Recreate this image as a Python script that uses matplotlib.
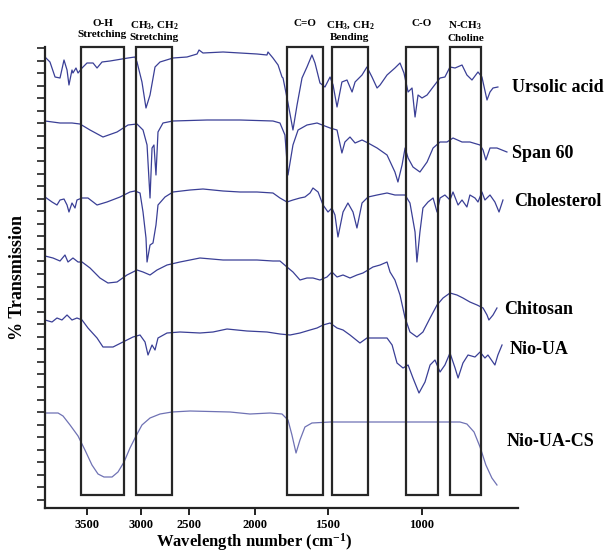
import numpy as np
import matplotlib
matplotlib.use("Agg")
from matplotlib import pyplot as plt
from matplotlib.patches import Rectangle
import matplotlib.transforms as mtransforms
from matplotlib.ticker import NullLocator

plt.rcParams["font.family"] = "Liberation Serif"
plt.rcParams["font.weight"] = "bold"
plt.rcParams["mathtext.fontset"] = "custom"
plt.rcParams["mathtext.rm"] = "Liberation Serif:bold"
plt.rcParams["mathtext.it"] = "Liberation Serif:bold"
plt.rcParams["mathtext.default"] = "rm"

# spectra: wavenumber (cm-1) and stacked transmission (arbitrary units)
ua_wn = [3889, 3843, 3796, 3750, 3713, 3685, 3667, 3639, 3630, 3602, 3583, 3546, 3500, 3444,
         3407, 3361, 3287, 3176, 3120, 3056, 3037, 2990, 2948, 2906, 2854, 2802, 2667, 2521,
         2439, 2424, 2394, 2242, 2113, 1986, 1918, 1911, 1877, 1842, 1815, 1808, 1774, 1740,
         1712, 1678, 1644, 1610, 1589, 1555, 1521, 1489, 1473, 1452, 1426, 1399, 1372, 1356,
         1319, 1293, 1266, 1239, 1223, 1186, 1144, 1117, 1096, 1074, 1053, 1037, 1021, 1000,
         973, 941, 904, 878, 851, 824, 787, 761, 734, 702, 681, 654, 638, 622, 596]
ua_t = [45.1, 44.6, 43.1, 43.0, 44.8, 43.8, 42.3, 43.8, 43.5, 44.0, 43.5, 44.0, 44.5, 44.5,
        44.0, 44.6, 44.7, 44.9, 45.0, 45.1, 44.6, 42.6, 40.0, 41.3, 44.1, 44.6, 45.0, 45.1,
        45.4, 45.8, 45.5, 45.6, 45.5, 45.4, 45.3, 45.6, 45.0, 44.3, 43.1, 43.0, 40.5, 37.8,
        40.3, 43.0, 44.1, 45.3, 44.5, 42.5, 42.1, 43.1, 42.3, 40.1, 42.6, 42.8, 41.6, 42.6,
        43.3, 44.1, 43.1, 42.0, 42.3, 43.3, 44.0, 44.5, 43.5, 41.6, 42.0, 39.1, 41.3, 41.0,
        41.3, 42.1, 43.0, 43.1, 44.1, 44.0, 44.3, 43.3, 42.8, 43.6, 43.1, 40.8, 41.6, 42.0, 42.1]

span_wn = [3889, 3750, 3639, 3565, 3472, 3352, 3222, 3120, 3037, 2979, 2937, 2906, 2885, 2865,
           2844, 2823, 2771, 2667, 2364, 2113, 1877, 1829, 1795, 1774, 1740, 1705, 1644, 1575,
           1489, 1452, 1426, 1410, 1383, 1356, 1319, 1287, 1239, 1186, 1144, 1128, 1106, 1090,
           1074, 1048, 1011, 973, 941, 904, 867, 835, 787, 745, 691, 675, 660, 638, 601, 548]
span_t = [38.7, 38.5, 38.5, 38.4, 37.8, 37.1, 37.6, 38.3, 38.4, 37.8, 36.3, 31.0, 36.0, 36.3,
          33.3, 37.6, 38.5, 38.7, 38.8, 38.8, 38.7, 38.5, 37.3, 33.3, 36.3, 37.8, 38.3, 38.5,
          38.0, 37.8, 35.5, 36.6, 37.1, 36.5, 36.8, 36.5, 36.0, 35.3, 33.6, 32.6, 34.3, 36.0,
          35.0, 34.1, 33.6, 34.6, 36.0, 36.6, 36.6, 37.0, 36.6, 36.6, 36.3, 35.8, 34.8, 36.0,
          36.0, 35.6]

chol_wn = [3889, 3824, 3778, 3750, 3713, 3685, 3667, 3639, 3611, 3593, 3546, 3491, 3407, 3315,
           3194, 3102, 3056, 3009, 2979, 2948, 2937, 2906, 2875, 2844, 2823, 2750, 2667, 2492,
           2394, 2242, 2113, 1986, 1877, 1829, 1781, 1740, 1692, 1658, 1623, 1603, 1568, 1534,
           1500, 1479, 1463, 1447, 1420, 1394, 1367, 1346, 1319, 1287, 1239, 1186, 1144, 1090,
           1064, 1037, 1027, 1011, 995, 968, 941, 920, 904, 878, 851, 835, 808, 787, 761, 745,
           718, 702, 681, 665, 638, 612, 590, 569]
chol_t = [31.1, 30.6, 30.3, 30.8, 30.9, 30.3, 29.6, 30.5, 30.0, 30.8, 31.0, 31.0, 30.3, 30.6,
          31.1, 31.6, 31.7, 31.5, 29.6, 27.0, 24.6, 26.3, 26.5, 28.3, 30.3, 31.1, 31.6, 31.8,
          31.9, 31.7, 31.6, 31.6, 31.5, 31.0, 30.6, 30.8, 31.0, 31.1, 31.5, 32.0, 31.6, 30.3,
          29.6, 30.0, 29.3, 27.1, 29.6, 30.5, 29.6, 28.0, 30.5, 31.1, 31.3, 31.5, 31.3, 31.3,
          30.5, 27.6, 24.6, 27.6, 30.0, 30.6, 31.0, 29.6, 31.0, 31.3, 30.8, 31.6, 30.3, 30.8,
          30.1, 31.3, 31.0, 30.6, 31.6, 30.8, 31.3, 30.6, 29.6, 30.8]

chit_wn = [3889, 3815, 3750, 3704, 3676, 3630, 3583, 3546, 3472, 3380, 3306, 3222, 3130, 3037,
           2979, 2906, 2833, 2729, 2594, 2417, 2242, 2113, 1986, 1877, 1829, 1781, 1740, 1692,
           1644, 1603, 1555, 1507, 1479, 1452, 1420, 1383, 1346, 1314, 1287, 1261, 1223, 1186,
           1170, 1144, 1117, 1090, 1064, 1027, 995, 957, 920, 888, 851, 814, 782, 745, 707, 675,
           654, 644, 622, 601]
chit_t = [25.2, 25.0, 24.7, 25.3, 24.6, 25.0, 24.6, 24.6, 24.0, 23.0, 22.5, 22.6, 23.3, 23.8,
          23.6, 23.3, 23.8, 24.3, 24.6, 25.0, 24.8, 24.8, 24.8, 24.7, 24.7, 24.1, 23.6, 22.8,
          23.0, 23.0, 22.8, 23.1, 23.6, 23.1, 23.3, 23.0, 23.3, 23.5, 23.8, 24.1, 24.3, 24.6,
          23.6, 22.8, 21.3, 19.0, 17.6, 17.1, 17.6, 19.0, 20.3, 21.0, 21.5, 21.3, 21.0, 20.6,
          20.3, 20.0, 19.3, 18.8, 19.3, 20.0]

nio_wn = [3889, 3824, 3778, 3732, 3685, 3639, 3593, 3546, 3491, 3407, 3352, 3259, 3167, 3074,
          3009, 2958, 2927, 2885, 2854, 2823, 2729, 2594, 2417, 2318, 2212, 2061, 1918, 1829,
          1760, 1692, 1623, 1575, 1534, 1489, 1452, 1420, 1383, 1330, 1293, 1239, 1186, 1159,
          1133, 1101, 1074, 1048, 1016, 984, 957, 931, 904, 878, 851, 824, 808, 782, 755, 718,
          691, 665, 649, 612, 596, 574]
nio_t = [18.8, 18.6, 19.0, 18.8, 19.3, 18.8, 19.0, 18.8, 18.0, 17.0, 16.1, 16.1, 16.6, 17.1,
         17.3, 16.6, 15.3, 16.3, 15.8, 17.0, 17.5, 17.6, 17.5, 17.6, 17.9, 17.7, 17.6, 17.4,
         17.3, 17.5, 17.8, 18.0, 18.3, 18.5, 18.0, 17.8, 17.3, 16.5, 17.0, 17.0, 17.0, 16.3,
         14.5, 14.0, 14.3, 13.0, 11.5, 12.6, 14.3, 14.8, 13.6, 14.3, 15.5, 14.0, 13.0, 14.5,
         15.3, 15.1, 15.6, 15.0, 15.3, 14.3, 15.3, 16.3]

niocs_wn = [3889, 3768, 3722, 3657, 3583, 3519, 3454, 3398, 3343, 3268, 3213, 3157, 3102, 3046,
            2990, 2906, 2802, 2677, 2492, 2189, 2038, 1897, 1815, 1774, 1747, 1719, 1692, 1658,
            1610, 1489, 1117, 798, 761, 723, 691, 660, 628, 601]
niocs_t = [9.5, 9.5, 9.2, 8.3, 7.2, 5.8, 4.3, 3.4, 3.1, 3.1, 3.6, 4.6, 6.0, 7.2,
           8.3, 9.0, 9.4, 9.6, 9.7, 9.6, 9.4, 9.5, 9.4, 8.8, 7.3, 5.5, 6.8, 8.1,
           8.5, 8.6, 8.6, 8.6, 8.4, 7.6, 6.1, 4.3, 3.0, 2.3]

# band regions (cm-1)
band_lo = [3556, 3046, 1781, 1479, 1085, 851]
band_hi = [3157, 2677, 1534, 1287, 915, 686]
band_names = ["O-H\nStretching", "CH$_3$, CH$_2$\nStretching", "C=O",
              "CH$_3$, CH$_2$\nBending", "C-O", "N-CH$_3$\nCholine"]

# x axis of the original is piecewise linear between its tick marks
# (anchor wavenumbers, ascending, and their distance from the right end)
AXIS_WN = np.array([489, 1000, 1500, 2000, 2500, 3000, 3500, 3889])
AXIS_POS = np.array([0, 96, 190, 263, 329, 377, 431, 473])


def forward(w):
    return np.interp(np.asarray(w, dtype=float), AXIS_WN, AXIS_POS)


def inverse(p):
    return np.interp(np.asarray(p, dtype=float), AXIS_POS, AXIS_WN)


fig = plt.figure(figsize=(6.13, 5.52), dpi=100)
ax = fig.add_axes([45 / 613, 44 / 552, 473 / 613, 461 / 552])
ax.set_xscale("function", functions=(forward, inverse))

series = [
    (ua_wn, ua_t, "Ursolic acid", 0.987, 42.0, "#3a3f96"),
    (span_wn, span_t, "Span 60", 0.987, 35.4, "#3a3f96"),
    (chol_wn, chol_t, "Cholesterol", 0.992, 30.6, "#3a3f96"),
    (chit_wn, chit_t, "Chitosan", 0.970, 19.8, "#3a3f96"),
    (nio_wn, nio_t, "Nio-UA", 0.983, 15.8, "#3a3f96"),
    (niocs_wn, niocs_t, "Nio-UA-CS", 0.977, 6.6, "#6f72b4"),
]
trans = mtransforms.blended_transform_factory(ax.transAxes, ax.transData)
for wn, t, name, lx, ly, col in series:
    ax.plot(wn, t, color=col, lw=0.9, clip_on=False)
    ax.text(lx, ly, name, transform=trans, fontsize=13, fontweight="bold",
            ha="left", va="center", clip_on=False)

# boxes marking the bands, with captions above
for lo, hi, name in zip(band_lo, band_hi, band_names):
    ax.add_patch(Rectangle((hi, 1.3), lo - hi, 44.8, fill=False, lw=1.6,
                           ec="#262626", clip_on=False, zorder=3))
    mid = inverse((forward(lo) + forward(hi)) / 2)
    ax.text(mid, 48.9, name, fontsize=8, fontweight="bold", ha="center", va="top",
            linespacing=1.3, clip_on=False)

ax.set_xlim(3889, 489)
ax.set_ylim(0, 46.1)
ax.set_xticks([3500, 3000, 2500, 2000, 1500, 1000])
ax.set_xticklabels(["3500", "3000", "2500", "2000", "1500", "1000"])
ax.xaxis.set_minor_locator(NullLocator())
ax.set_yticks(np.linspace(0.8, 46.0, 37))
ax.set_yticklabels([])
ax.tick_params(axis="x", direction="out", length=5, width=1.4, labelsize=9, pad=3,
               color="#222222")
ax.tick_params(axis="y", direction="out", length=6, width=1.2, color="#222222")
for lbl in ax.get_xticklabels():
    lbl.set_fontweight("bold")

for s in ["top", "right"]:
    ax.spines[s].set_visible(False)
for s in ["left", "bottom"]:
    ax.spines[s].set_linewidth(1.6)
    ax.spines[s].set_color("#222222")

ax.set_xlabel("Wavelength number (cm$^{-1}$)", fontsize=12, fontweight="bold")
ax.xaxis.set_label_coords(0.442, -0.051)
ax.set_ylabel("% Transmission", fontsize=13, fontweight="bold")
ax.yaxis.set_label_coords(-0.040, 0.5)

fig.savefig("out.png", dpi=100)
